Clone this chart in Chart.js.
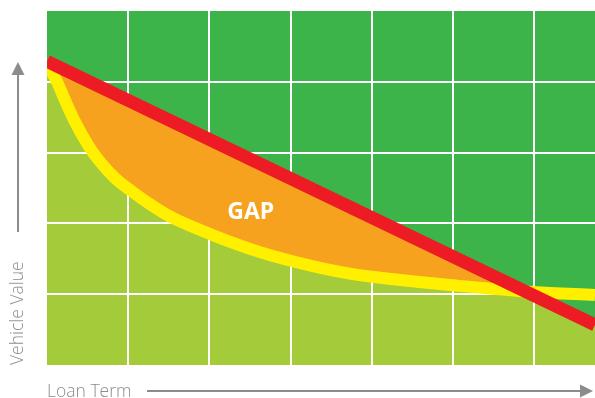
<!DOCTYPE html>
<html>
<head>
<meta charset="utf-8">
<script src="https://cdn.jsdelivr.net/npm/chart.js@4.4.1/dist/chart.umd.min.js"></script>
<style>
  html, body { margin: 0; padding: 0; background: #fff; }
  canvas { display: block; }
</style>
</head>
<body>
<canvas id="gap-chart" width="595" height="398"></canvas>
<script>
// axis extents (grid every 1 unit)
const xMax = 6.75;
const yMax = 5;

// vehicle value curve (yellow)
const valueTerm = [0, 0.111, 0.222, 0.333, 0.53, 0.653, 0.838, 1.06, 1.27, 1.48, 1.88, 2.5, 3.11, 3.73, 4.35, 4.96, 5.99, 6.75];
const vehicleValue = [4.25, 4.03, 3.74, 3.46, 3.06, 2.87, 2.64, 2.44, 2.27, 2.12, 1.91, 1.64, 1.44, 1.29, 1.2, 1.13, 1.03, 0.99];

// loan balance line (red)
const loanTerm = [0, 6.75];
const loanBalance = [4.29, 0.565];

const gapLabel = "GAP";
const gapLabelAt = [2.51, 2.16];

const DARK_GREEN = "#3db44a";
const LIGHT_GREEN = "#a4cb3a";
const ORANGE = "#f7a21e";
const RED = "#ed1c24";
const YELLOW = "#fff000";
const GREY = "#8c8c8c";

// plot background behind the fills
const plotBackground = {
  id: "plotBackground",
  beforeDraw(chart) {
    const { ctx, chartArea: a } = chart;
    ctx.save();
    ctx.globalCompositeOperation = "destination-over";
    ctx.fillStyle = DARK_GREEN;
    ctx.fillRect(a.left, a.top, a.width, a.height);
    ctx.restore();
  }
};

// orange gap between the two lines, painted over the grid
const gapArea = {
  id: "gapArea",
  beforeDatasetsDraw(chart) {
    const { ctx, chartArea: a } = chart;
    const loan = chart.getDatasetMeta(0).dataset;
    const value = chart.getDatasetMeta(1).dataset;
    loan.updateControlPoints(a, "x");
    value.updateControlPoints(a, "x");
    ctx.save();
    ctx.beginPath();
    ctx.rect(a.left, a.top, a.width, a.height);
    ctx.clip();
    ctx.beginPath();
    loan.path(ctx);
    ctx.lineTo(a.right, a.bottom);
    ctx.lineTo(a.left, a.bottom);
    ctx.closePath();
    ctx.clip();
    ctx.beginPath();
    value.path(ctx);
    ctx.lineTo(a.right, a.top);
    ctx.lineTo(a.left, a.top);
    ctx.closePath();
    ctx.fillStyle = ORANGE;
    ctx.fill();
    ctx.restore();
  },
  afterDatasetsDraw(chart) {
    const { ctx, scales } = chart;
    ctx.save();
    ctx.fillStyle = "#ffffff";
    ctx.font = "bold 23px 'Open Sans'";
    ctx.textAlign = "center";
    ctx.textBaseline = "middle";
    ctx.fillText(gapLabel, scales.x.getPixelForValue(gapLabelAt[0]), scales.y.getPixelForValue(gapLabelAt[1]));
    ctx.restore();
  }
};

// axis arrows
const axisArrows = {
  id: "axisArrows",
  afterDraw(chart) {
    const { ctx, chartArea: a } = chart;
    ctx.save();
    ctx.strokeStyle = GREY;
    ctx.fillStyle = GREY;
    ctx.lineWidth = 2;

    const vx = a.left - 29;
    const vTip = a.top + 51;
    ctx.beginPath();
    ctx.moveTo(vx, a.bottom - 133);
    ctx.lineTo(vx, vTip + 8);
    ctx.stroke();
    ctx.beginPath();
    ctx.moveTo(vx, vTip);
    ctx.lineTo(vx - 6.5, vTip + 13);
    ctx.lineTo(vx + 6.5, vTip + 13);
    ctx.closePath();
    ctx.fill();

    const hy = a.bottom + 26;
    const hTip = a.right - 2;
    ctx.beginPath();
    ctx.moveTo(a.left + 100, hy);
    ctx.lineTo(hTip - 8, hy);
    ctx.stroke();
    ctx.beginPath();
    ctx.moveTo(hTip, hy);
    ctx.lineTo(hTip - 13, hy - 6.5);
    ctx.lineTo(hTip - 13, hy + 6.5);
    ctx.closePath();
    ctx.fill();
    ctx.restore();
  }
};

const innerGrid = (max) => (c) =>
  c.tick && c.tick.value > 0 && c.tick.value < max ? "#ffffff" : "rgba(0,0,0,0)";

const titleFont = { family: "'Open Sans'", size: 17.5, weight: "300", lineHeight: 0.8 };

new Chart(document.getElementById("gap-chart"), {
  type: "line",
  data: {
    datasets: [
      {
        label: "Loan balance",
        data: loanTerm.map((x, i) => ({ x: x, y: loanBalance[i] })),
        borderColor: RED,
        borderWidth: 13,
        pointRadius: 0,
        fill: { target: 1, above: ORANGE, below: DARK_GREEN }
      },
      {
        label: "Vehicle value",
        data: valueTerm.map((x, i) => ({ x: x, y: vehicleValue[i] })),
        borderColor: YELLOW,
        borderWidth: 12,
        pointRadius: 0,
        cubicInterpolationMode: "monotone",
        fill: { target: "origin", above: LIGHT_GREEN, below: LIGHT_GREEN }
      }
    ]
  },
  options: {
    responsive: false,
    animation: false,
    layout: { padding: { top: 11, right: 0, bottom: 0, left: 0 } },
    plugins: {
      legend: { display: false },
      tooltip: { enabled: false },
      filler: { drawTime: "beforeDraw" }
    },
    scales: {
      x: {
        type: "linear",
        min: 0,
        max: xMax,
        ticks: { display: false, stepSize: 1 },
        grid: { color: innerGrid(xMax), lineWidth: 2, drawTicks: false },
        border: { display: false },
        title: {
          display: true,
          text: "Loan Term",
          align: "start",
          color: GREY,
          font: titleFont,
          padding: { top: 0, bottom: -1 }
        },
        afterFit(scale) { scale.height = 33; }
      },
      y: {
        min: 0,
        max: yMax,
        ticks: { display: false, stepSize: 1 },
        grid: { color: innerGrid(yMax), lineWidth: 2, drawTicks: false },
        border: { display: false },
        title: {
          display: true,
          text: "Vehicle Value",
          align: "start",
          color: GREY,
          font: titleFont,
          padding: { top: 11, bottom: 0 }
        },
        afterFit(scale) { scale.width = 47; }
      }
    }
  },
  plugins: [plotBackground, gapArea, axisArrows]
});
</script>
</body>
</html>
